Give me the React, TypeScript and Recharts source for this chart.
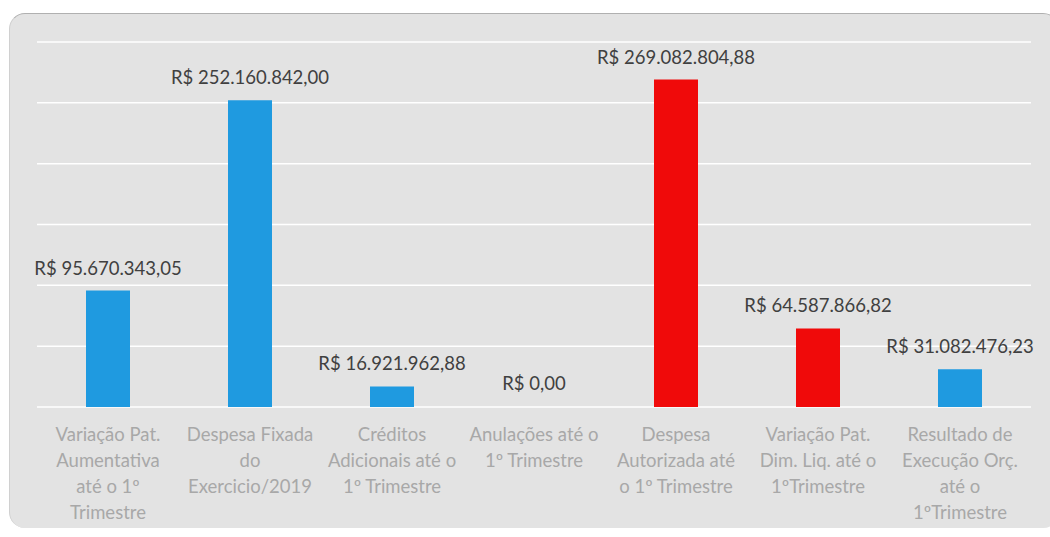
import { BarChart, Bar, XAxis, YAxis, CartesianGrid, Cell, LabelList } from 'recharts'

const categories = [
    'Variação Pat.\nAumentativa\naté o 1º\nTrimestre',
    'Despesa Fixada\ndo\nExercicio/2019',
    'Créditos\nAdicionais até o\n1º Trimestre',
    'Anulações até o\n1º Trimestre',
    'Despesa\nAutorizada até\no 1º Trimestre',
    'Variação Pat.\nDim. Liq. até o\n1ºTrimestre',
    'Resultado de\nExecução Orç.\naté o\n1ºTrimestre',
]
const values = [95670343.05, 252160842.0, 16921962.88, 0, 269082804.88, 64587866.82, 31082476.23]
const barColors = ['#1f9ae0', '#1f9ae0', '#1f9ae0', '#1f9ae0', '#f00a0a', '#f00a0a', '#1f9ae0']
const yTicks = [0, 50000000, 100000000, 150000000, 200000000, 250000000, 300000000]

const data = categories.map((name, i) => ({ name, value: values[i], color: barColors[i] }))

// R$ 1.234.567,89
const formatBRL = (v: number) => {
    const [int, dec] = v.toFixed(2).split('.')
    return 'R$ ' + int.replace(/\B(?=(\d{3})+(?!\d))/g, '.') + ',' + dec
}

const FONT = 'Lato, "Open Sans", sans-serif'

const CategoryTick = (props: any) => {
    const { x, y, payload } = props
    const lines = String(payload.value).split('\n')
    return (
        <text x={x} y={y} textAnchor="middle" fill="#a8a8a8" fontSize={18.5} fontFamily={FONT}>
            {lines.map((line, i) => (
                <tspan key={i} x={x} dy={i === 0 ? 34 : 26}>{line}</tspan>
            ))}
        </text>
    )
}

// value label above each bar, drawn without wrapping
const ValueLabel = (props: any) => {
    const { x, y, width, value } = props
    return (
        <text x={x + width / 2} y={y - 16} textAnchor="middle" fill="#404040" fontSize={18.5} fontFamily={FONT}>
            {formatBRL(Number(value))}
        </text>
    )
}

export default function App() {
    return (
        <div style={{ position: 'absolute', left: 0, top: 0, width: 1050, height: 537, background: '#fff', overflow: 'hidden' }}>
            <div style={{
                position: 'absolute', left: 9, top: 13, width: 1050, height: 515,
                background: '#e3e3e3', borderRadius: 16, borderTop: '1px solid #b0b0b0',
                borderLeft: '1px solid #d0d0d0', boxSizing: 'border-box'
            }} />
            <div style={{ position: 'absolute', left: 0, top: 0 }}>
                <BarChart width={1050} height={537} data={data} margin={{ top: 42, right: 19, bottom: 0, left: 37 }}>
                    <CartesianGrid vertical={false} stroke="#ffffff" strokeWidth={1.5} horizontalValues={yTicks} />
                    <YAxis hide domain={[0, 300000000]} ticks={yTicks} />
                    <XAxis
                        dataKey="name"
                        axisLine={false}
                        tickLine={false}
                        tickSize={0}
                        tickMargin={0}
                        height={130}
                        interval={0}
                        tick={<CategoryTick />}
                    />
                    {/* minPointSize keeps the zero bar so its label still shows */}
                    <Bar dataKey="value" barSize={44} isAnimationActive={false} minPointSize={1}>
                        {data.map((d, i) => (
                            <Cell key={i} fill={d.value === 0 ? 'transparent' : d.color} />
                        ))}
                        <LabelList dataKey="value" content={<ValueLabel />} />
                    </Bar>
                </BarChart>
            </div>
        </div>
    )
}
